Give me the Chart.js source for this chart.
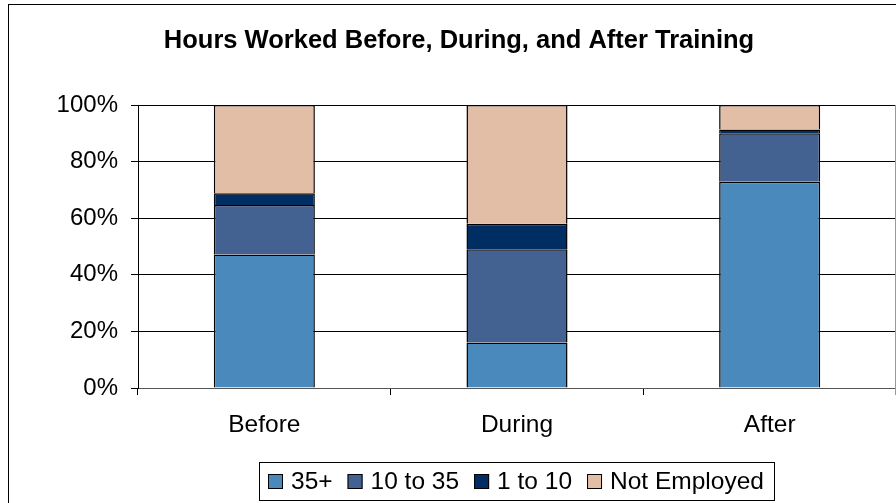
<!DOCTYPE html>
<html>
<head>
<meta charset="utf-8">
<title>Hours Worked Before, During, and After Training</title>
<script src="https://cdn.jsdelivr.net/npm/chart.js@4/dist/chart.umd.min.js"></script>
<style>
    html, body { margin: 0; padding: 0; background: #fff; overflow: hidden; }
    #wrap { width: 896px; height: 503px; position: relative; }
</style>
</head>
<body>
<div id="wrap"><canvas id="hoursChart"></canvas></div>
<script>
const categories = ["Before", "During", "After"];
const hours35Plus = [47.2, 16.1, 72.9];
const hours10to35 = [17.5, 32.9, 17.1];
const hours1to10 = [4.1, 9.0, 1.3];
const notEmployed = [31.2, 42.0, 8.7];
const yTicks = [0, 20, 40, 60, 80, 100];

const FONT = "'Liberation Sans', Arial, sans-serif";
const chartTitle = "Hours Worked Before, During, and After Training";

// outer frame, title and boxed legend are drawn by hand
const framePlugin = {
    id: 'frame',
    beforeDraw(chart) {
        const ctx = chart.ctx;
        ctx.save();
        ctx.fillStyle = '#fff';
        ctx.fillRect(0, 0, chart.width, chart.height);
        ctx.strokeStyle = '#000';
        ctx.lineWidth = 1;
        ctx.strokeRect(8.5, 4.5, 1000, 1000);
        ctx.restore();
    },
    afterDraw(chart) {
        const ctx = chart.ctx;
        const area = chart.chartArea;
        ctx.save();
        // thin grey line closing the plot on the right
        ctx.strokeStyle = '#999';
        ctx.beginPath();
        ctx.moveTo(area.right - 0.5, area.top);
        ctx.lineTo(area.right - 0.5, area.bottom + 7);
        ctx.stroke();

        ctx.fillStyle = '#000';
        ctx.font = "bold 25.5px " + FONT;
        ctx.textAlign = 'center';
        ctx.textBaseline = 'middle';
        ctx.fillText(chartTitle, 459, 41);

        // legend
        ctx.font = "24.5px " + FONT;
        const items = chart.data.datasets.map(ds => ({ label: ds.label, color: ds.backgroundColor }));
        const sq = 15, gapText = 8, gapItem = 15, padL = 9, padR = 10;
        let total = padL + padR;
        items.forEach((it, i) => {
            it.w = ctx.measureText(it.label).width;
            total += sq + gapText + it.w + (i > 0 ? gapItem : 0);
        });
        const boxTop = 462, boxH = 38;
        const cy = boxTop + boxH / 2;
        let x = Math.round(516 - total / 2);
        ctx.strokeStyle = '#000';
        ctx.strokeRect(x + 0.5, boxTop + 0.5, Math.round(total), boxH);
        x += padL;
        ctx.textAlign = 'left';
        items.forEach(it => {
            ctx.fillStyle = it.color;
            ctx.fillRect(x, cy - 7, sq, sq);
            ctx.strokeRect(x + 0.5, cy - 6.5, sq - 1, sq - 1);
            ctx.fillStyle = '#000';
            ctx.fillText(it.label, x + sq + gapText, cy + 1);
            x += sq + gapText + it.w + gapItem;
        });
        ctx.restore();
    }
};

function makeDataset(label, values, color) {
    return {
        label: label,
        data: values,
        backgroundColor: color,
        borderColor: '#000',
        // no bottom edge so stacked segments share a single dividing line
        borderWidth: { top: 1.5, left: 1.5, right: 1.5, bottom: 0 },
        borderSkipped: false,
        barPercentage: 0.4,
        categoryPercentage: 1.0
    };
}

const ctx = document.getElementById('hoursChart').getContext('2d');
const chart = new Chart(ctx, {
    type: 'bar',
    data: {
        labels: categories,
        datasets: [
            makeDataset('35+', hours35Plus, '#4A89BC'),
            makeDataset('10 to 35', hours10to35, '#446291'),
            makeDataset('1 to 10', hours1to10, '#002D62'),
            makeDataset('Not Employed', notEmployed, '#E1BEA5')
        ]
    },
    options: {
        responsive: true,
        maintainAspectRatio: false,
        animation: false,
        layout: { padding: { top: 105, left: 22, right: 0, bottom: 0 } },
        plugins: {
            legend: { display: false },
            title: { display: false },
            tooltip: { enabled: false }
        },
        scales: {
            x: {
                stacked: true,
                grid: {
                    offset: true,
                    drawOnChartArea: false,
                    color: '#000',
                    tickLength: 7
                },
                border: { color: '#555', width: 1 },
                ticks: {
                    color: '#000',
                    font: { family: FONT, size: 24.5 },
                    padding: 16
                },
                afterFit(scale) { scale.height = 115; }
            },
            y: {
                stacked: true,
                min: 0,
                max: 100,
                afterBuildTicks(scale) { scale.ticks = yTicks.map(v => ({ value: v })); },
                grid: { color: '#000', tickLength: 7 },
                border: { color: '#000', width: 1 },
                ticks: {
                    color: '#000',
                    font: { family: FONT, size: 24 },
                    padding: 13,
                    callback: v => v + '%'
                },
                afterFit(scale) { scale.width = 116; }
            }
        }
    },
    plugins: [framePlugin]
});
</script>
</body>
</html>
